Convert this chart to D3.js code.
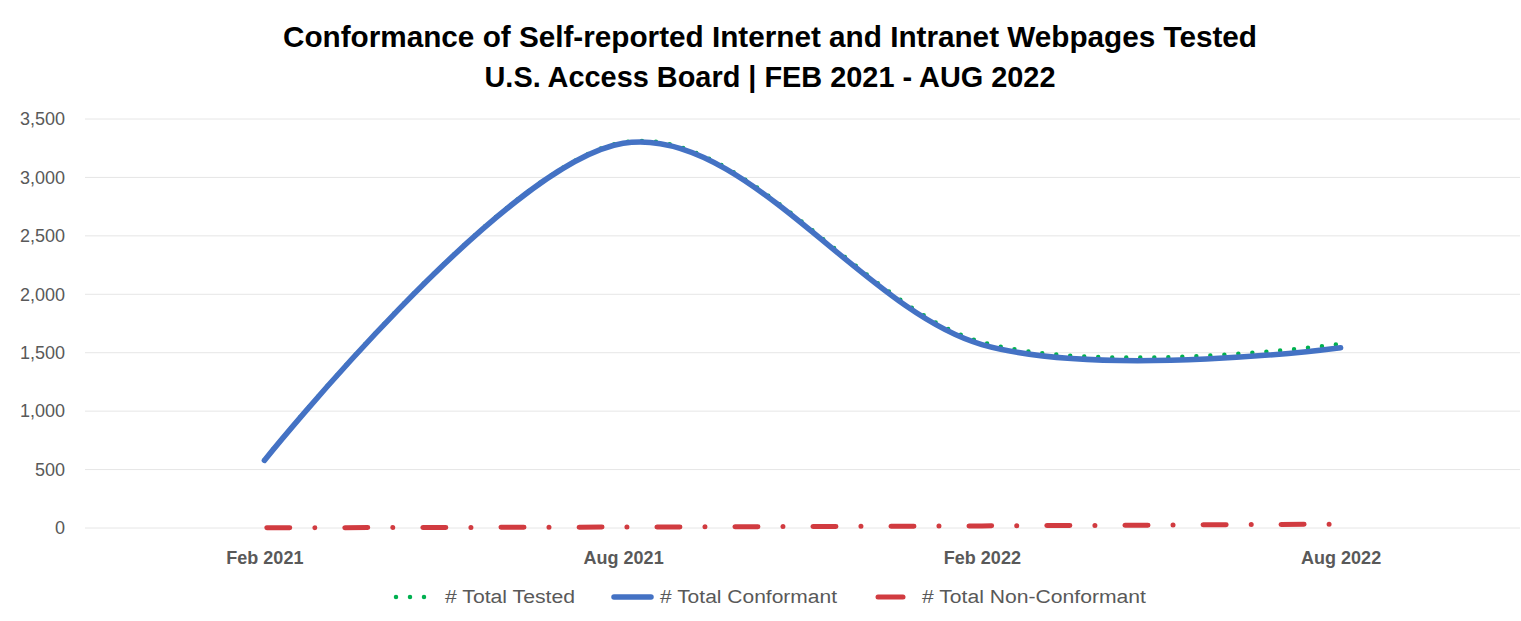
<!DOCTYPE html>
<html>
<head>
<meta charset="utf-8">
<script src="https://cdn.jsdelivr.net/npm/d3@7"></script>
<style>
  html, body { margin: 0; padding: 0; background: #ffffff; }
  svg { display: block; font-family: "Liberation Sans", Arial, sans-serif; }
</style>
</head>
<body>
<svg id="chart" width="1521" height="621"></svg>
<script>
const categories = ["Feb 2021", "Aug 2021", "Feb 2022", "Aug 2022"];
const totalTested = [580, 3300, 1590, 1575];
const totalConformant = [578, 3292, 1570, 1542];
const totalNonConformant = [2, 8, 18, 33];
const yTicks = [0, 500, 1000, 1500, 2000, 2500, 3000, 3500];
const titleLines = [
  "Conformance of Self-reported Internet and Intranet Webpages Tested",
  "U.S. Access Board | FEB 2021 - AUG 2022"
];
const seriesNames = ["# Total Tested", "# Total Conformant", "# Total Non-Conformant"];

const svg = d3.select("#chart");
const plot = { left: 85, right: 1520, top: 119, bottom: 528 };

const x = d3.scalePoint().domain(categories).range([plot.left, plot.right]).padding(0.5);
const y = d3.scaleLinear().domain([0, 3500]).range([plot.bottom, plot.top]);

// Title
const titleAttrs = [
  { y: 47, len: 974 },
  { y: 87, len: 571 }
];
titleLines.forEach((t, i) => {
  svg.append("text")
    .attr("x", 770)
    .attr("y", titleAttrs[i].y)
    .attr("text-anchor", "middle")
    .attr("font-size", 30)
    .attr("font-weight", "bold")
    .attr("fill", "#000000")
    .attr("textLength", titleAttrs[i].len)
    .attr("lengthAdjust", "spacingAndGlyphs")
    .text(t);
});

// Gridlines
svg.append("g")
  .selectAll("line")
  .data(yTicks)
  .join("line")
  .attr("x1", plot.left)
  .attr("x2", plot.right)
  .attr("y1", d => y(d))
  .attr("y2", d => y(d))
  .attr("stroke", "#e6e6e6")
  .attr("stroke-width", 1);

// Y axis
const yAxis = d3.axisLeft(y).tickValues(yTicks).tickFormat(d3.format(",")).tickSize(0).tickPadding(0);
const gy = svg.append("g").attr("transform", "translate(65,0)").call(yAxis);
gy.select(".domain").remove();
gy.selectAll("text")
  .attr("font-family", "Liberation Sans, Arial, sans-serif")
  .attr("font-size", 18)
  .attr("fill", "#595959");

// X axis
const xAxis = d3.axisBottom(x).tickSize(0).tickPadding(0);
const gx = svg.append("g").attr("transform", `translate(0,${plot.bottom})`).call(xAxis);
gx.select(".domain").remove();
gx.selectAll("text")
  .attr("font-family", "Liberation Sans, Arial, sans-serif")
  .attr("font-size", 18)
  .attr("font-weight", "bold")
  .attr("fill", "#595959")
  .attr("dy", 0)
  .attr("y", 36);

const curve = d3.curveCardinal.tension(0);
const line = d3.line()
  .x((d, i) => x(categories[i]))
  .y(d => y(d))
  .curve(curve);

// Total tested (green round dots)
svg.append("path")
  .datum(totalTested)
  .attr("d", line)
  .attr("fill", "none")
  .attr("stroke", "#00b050")
  .attr("stroke-width", 4.5)
  .attr("stroke-linecap", "round")
  .attr("stroke-dasharray", "0,14");

// Total conformant (blue solid)
svg.append("path")
  .datum(totalConformant)
  .attr("d", line)
  .attr("fill", "none")
  .attr("stroke", "#4472c4")
  .attr("stroke-width", 5.5)
  .attr("stroke-linecap", "round");

// Total non-conformant (red dash-dot)
svg.append("path")
  .datum(totalNonConformant)
  .attr("d", line)
  .attr("fill", "none")
  .attr("stroke", "#d13b40")
  .attr("stroke-width", 5)
  .attr("stroke-linecap", "round")
  .attr("stroke-dasharray", "23,25,0.01,30")
  .attr("stroke-dashoffset", -2.5);

// Legend
const legendY = 597;
const legend = svg.append("g");
const legendItems = [
  { name: seriesNames[0], x1: 396, x2: 432, tx: 445, tl: 130, color: "#00b050", w: 4.5, dash: "0,14" },
  { name: seriesNames[1], x1: 614, x2: 651, tx: 660, tl: 177, color: "#4472c4", w: 5.5, dash: null },
  { name: seriesNames[2], x1: 878, x2: 903, tx: 922, tl: 224, color: "#d13b40", w: 5, dash: null }
];
legendItems.forEach(it => {
  const l = legend.append("line")
    .attr("x1", it.x1).attr("x2", it.x2)
    .attr("y1", legendY).attr("y2", legendY)
    .attr("stroke", it.color)
    .attr("stroke-width", it.w)
    .attr("stroke-linecap", "round");
  if (it.dash) l.attr("stroke-dasharray", it.dash);
  legend.append("text")
    .attr("x", it.tx)
    .attr("y", legendY + 6)
    .attr("font-size", 18)
    .attr("fill", "#595959")
    .attr("textLength", it.tl)
    .attr("lengthAdjust", "spacingAndGlyphs")
    .text(it.name);
});
</script>
</body>
</html>
